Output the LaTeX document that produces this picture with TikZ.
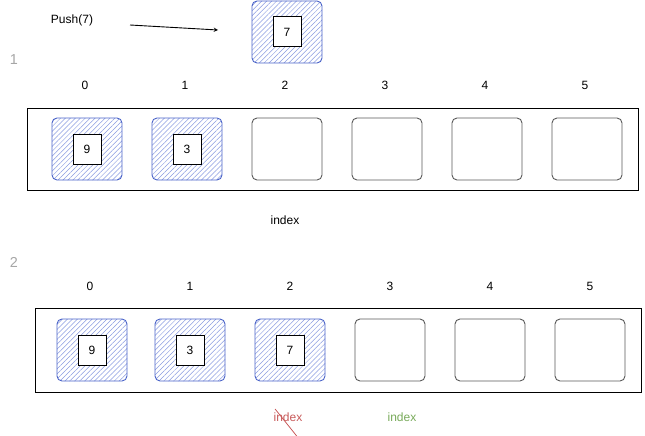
\documentclass[tikz,border=0pt]{standalone}
\usepackage{fontspec}
\setmainfont{Liberation Sans}
\usetikzlibrary{patterns,patterns.meta}
\definecolor{blu}{HTML}{4A63C8}
\definecolor{hat}{HTML}{8A9BE0}
\definecolor{redc}{RGB}{200,90,90}
\definecolor{grnc}{RGB}{120,170,90}
\tikzset{x=1pt,y=-1pt,
 cell/.style={draw=black!65,line width=0.9pt,rounded corners=5pt,minimum width=70pt,minimum height=62pt,fill=white},
 full/.style={draw=blu,line width=0.9pt,rounded corners=5pt,minimum width=70pt,minimum height=62pt,pattern={Lines[angle=45,distance=3.5pt,line width=0.5pt]},pattern color=hat},
 val/.style={draw=black,line width=1pt,fill=white,minimum width=28pt,minimum height=30pt,font=\large},
 lab/.style={font=\large},
 cont/.style={draw=black,line width=1pt}}
\begin{document}
\begin{tikzpicture}
\useasboundingbox (0,0) rectangle (645,436);
\node[lab] (push) at (72,20) {Push(7)};
\coordinate (a0) at (130,25);
\coordinate (a1) at (218,30);
\draw[-stealth,line width=0.9pt] (a0) -- (a1);
\node[full] (top) at (287,32) {};
\node[val] (topv) at (287,32) {7};
\node[lab,text=black!35,font=\Large] (s1) at (14,60) {1};
\node[lab,text=black!35,font=\Large] (s2) at (14,262) {2};
% row 1
\node[cont,minimum width=611pt,minimum height=82pt] (c1) at (332.5,149) {};
\foreach \i/\x in {0/87,1/187,2/287,3/387,4/487,5/587}{
  \node[lab] (l1\i) at (\x-2,85) {\i};}
\node[full] (r10) at (87,149) {}; \node[val] (v10) at (87,149) {9};
\node[full] (r11) at (187,149) {}; \node[val] (v11) at (187,149) {3};
\foreach \i/\x in {2/287,3/387,4/487,5/587}{\node[cell] (r1\i) at (\x,149) {};}
\node[lab] (idx1) at (285,220) {index};
% row 2
\node[cont,minimum width=606pt,minimum height=84pt] (c2) at (338,350) {};
\foreach \i/\x in {0/90,1/190,2/290,3/390,4/490,5/590}{
  \node[lab] (l2\i) at (\x,286) {\i};}
\node[full] (r20) at (92,350) {}; \node[val] (v20) at (92,350) {9};
\node[full] (r21) at (190,350) {}; \node[val] (v21) at (190,350) {3};
\node[full] (r22) at (290,350) {}; \node[val] (v22) at (290,350) {7};
\foreach \i/\x in {3/390,4/490,5/590}{\node[cell] (r2\i) at (\x,350) {};}
\node[lab,text=redc] (idxr) at (288,417) {index};
\draw[redc,line width=0.8pt] (idxr.north west)++(5,0) -- ++(24,30);
\node[lab,text=grnc] (idxg) at (402,417) {index};
\end{tikzpicture}
\end{document}
